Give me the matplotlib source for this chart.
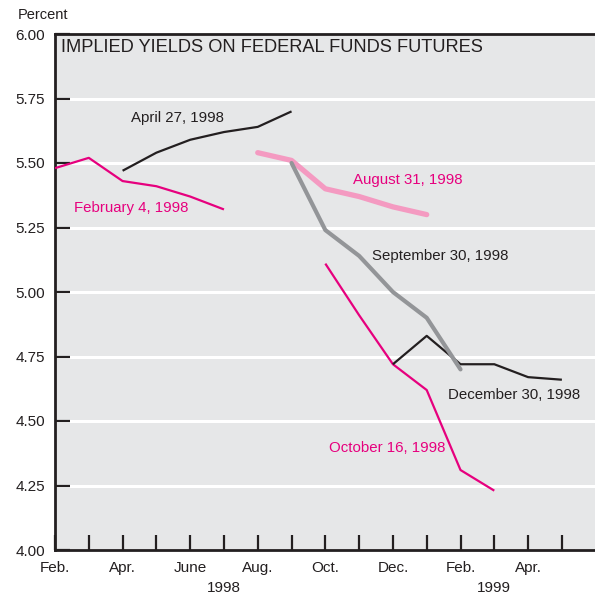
import matplotlib
matplotlib.use("Agg")
import matplotlib.pyplot as plt

# ---- data (x = months since Feb 1998) ----
month_labels = ['Feb.', '', 'Apr.', '', 'June', '', 'Aug.', '', 'Oct.', '', 'Dec.', '',
                'Feb.', '', 'Apr.', '']
year_labels = ['1998', '1999']
year_pos = [5, 13]
y_ticks = [4.00, 4.25, 4.50, 4.75, 5.00, 5.25, 5.50, 5.75, 6.00]

feb4_x = [0, 1, 2, 3, 4, 5]
feb4_y = [5.48, 5.52, 5.43, 5.41, 5.37, 5.32]
apr27_x = [2, 3, 4, 5, 6, 7]
apr27_y = [5.47, 5.54, 5.59, 5.62, 5.64, 5.70]
aug31_x = [6, 7, 8, 9, 10, 11]
aug31_y = [5.54, 5.51, 5.40, 5.37, 5.33, 5.30]
sep30_x = [7, 8, 9, 10, 11, 12]
sep30_y = [5.50, 5.24, 5.14, 5.00, 4.90, 4.70]
oct16_x = [8, 9, 10, 11, 12, 13]
oct16_y = [5.11, 4.91, 4.72, 4.62, 4.31, 4.23]
dec30_x = [10, 11, 12, 13, 14, 15]
dec30_y = [4.72, 4.83, 4.72, 4.72, 4.67, 4.66]

MAGENTA = '#e6007e'
PINK = '#f49ac1'
GRAY = '#939598'
BLACK = '#231f20'
BG = '#e6e7e8'
FONT = ['Liberation Sans', 'DejaVu Sans']

fig = plt.figure(figsize=(5.95, 5.98), dpi=100)
ax = fig.add_axes([55/595, 48/598, 540/595, 516/598])
ax.set_facecolor(BG)
ax.set_xlim(0, 15.98)
ax.set_ylim(4.0, 6.0)

for v in y_ticks[1:-1]:
    ax.axhline(v, color='white', lw=2.2, zorder=1)

ax.plot(feb4_x, feb4_y, color=MAGENTA, lw=1.6, zorder=3, solid_capstyle='butt')
ax.plot(apr27_x, apr27_y, color=BLACK, lw=1.6, zorder=3, solid_capstyle='butt')
ax.plot(aug31_x, aug31_y, color=PINK, lw=3.8, zorder=3, solid_capstyle='round')
ax.plot(oct16_x, oct16_y, color=MAGENTA, lw=1.6, zorder=4, solid_capstyle='butt')
ax.plot(dec30_x, dec30_y, color=BLACK, lw=1.6, zorder=4, solid_capstyle='butt')
ax.plot(sep30_x, sep30_y, color=GRAY, lw=3.0, zorder=5, solid_capstyle='round')

ax.set_yticks(y_ticks)
ax.set_yticklabels(['%.2f' % v for v in y_ticks], fontfamily=FONT, fontsize=11)
ax.set_xticks(range(len(month_labels)))
ax.set_xticklabels(month_labels, fontfamily=FONT, fontsize=11)
ax.tick_params(axis='both', direction='in', length=11, width=1.6, color=BLACK, labelcolor=BLACK)
ax.tick_params(axis='y', pad=7)
ax.tick_params(axis='x', pad=8)
for side in ['left', 'bottom', 'top']:
    ax.spines[side].set_color(BLACK)
    ax.spines[side].set_linewidth(2)
ax.spines['right'].set_visible(False)

for lab, pos in zip(year_labels, year_pos):
    ax.text(pos, -38/516, lab, transform=ax.get_xaxis_transform(), ha='center', va='center',
            fontfamily=FONT, fontsize=11, color=BLACK)

fig.text(18/595, 1 - 15/598, 'Percent', ha='left', va='center', fontfamily=FONT,
         fontsize=10.5, color=BLACK)

ax.text(6/540, 1 - 13/516, 'IMPLIED YIELDS ON FEDERAL FUNDS FUTURES', transform=ax.transAxes,
        ha='left', va='center', fontfamily=FONT, fontsize=13.15, color=BLACK)

labels = [
    ('April 27, 1998', 2.25, 5.674, BLACK),
    ('February 4, 1998', 0.56, 5.326, MAGENTA),
    ('August 31, 1998', 8.82, 5.434, MAGENTA),
    ('September 30, 1998', 9.38, 5.14, BLACK),
    ('December 30, 1998', 11.63, 4.601, BLACK),
    ('October 16, 1998', 8.11, 4.395, MAGENTA),
]
for txt, x, y, c in labels:
    ax.text(x, y, txt, ha='left', va='center', fontfamily=FONT, fontsize=10.8, color=c, zorder=6)

fig.savefig('out.png', dpi=100)
